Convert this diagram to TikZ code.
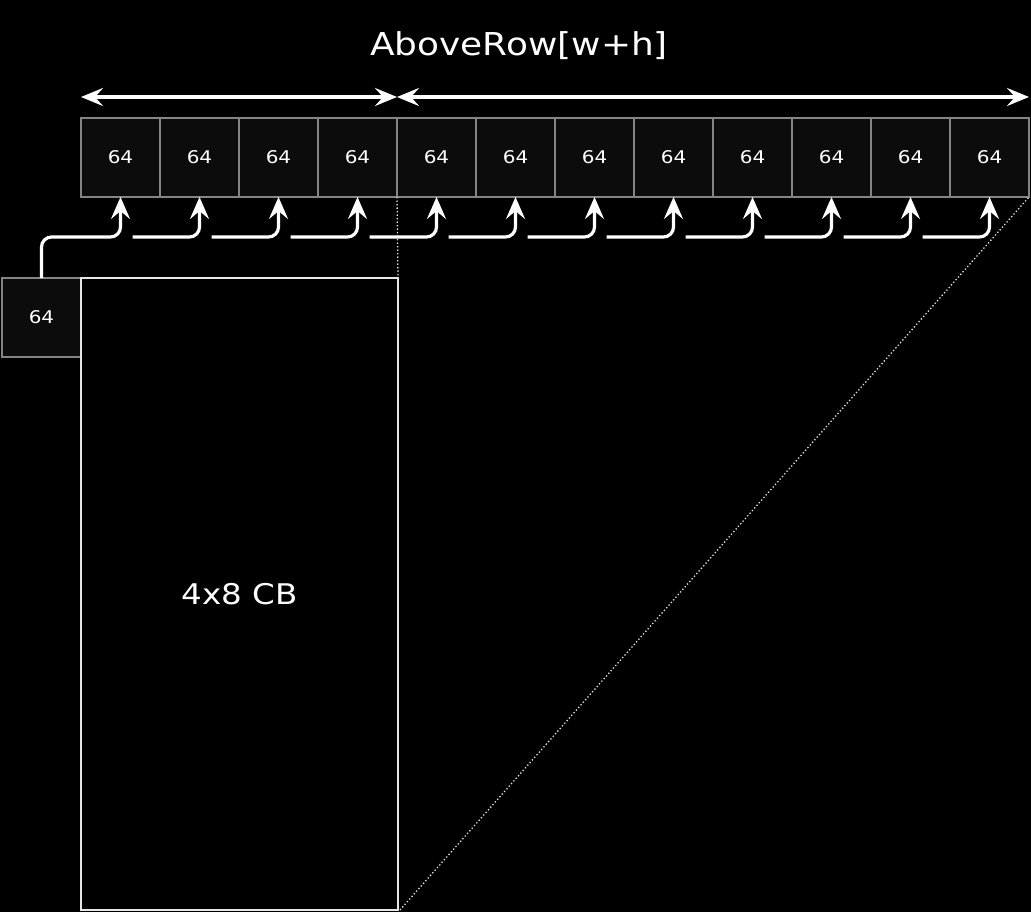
\documentclass[tikz,border=0pt]{standalone}
\usepackage{fontspec}
\setmainfont{DejaVu Sans}
\newfontfamily\widefont[FakeStretch=1.14]{DejaVu Sans}
\usetikzlibrary{arrows.meta,calc}
\definecolor{cellfill}{HTML}{0C0C0C}
\definecolor{cellline}{HTML}{858585}
\definecolor{cbline}{HTML}{E6E6E6}
\definecolor{dotline}{HTML}{E0E0E0}
\tikzset{
  cell/.style={draw=cellline, fill=cellfill, line width=1.8pt, minimum size=79pt, inner sep=0pt, outer sep=0pt, text=white, font=\widefont\fontsize{17.5}{19}\selectfont},
  cbbox/.style={draw=cbline, fill=black, line width=2.2pt, minimum width=317pt, minimum height=632pt, inner sep=0pt, outer sep=0pt, text=white, font=\widefont\fontsize{28.5}{32}\selectfont},
  conn/.style={draw=white, line width=3.2pt, rounded corners=10pt, -{Stealth[length=22pt,width=19pt,inset=8pt]}},
  span/.style={draw=white, line width=3.2pt, {Stealth[length=22pt,width=18pt,inset=8pt]}-{Stealth[length=22pt,width=18pt,inset=8pt]}},
  guide/.style={draw=dotline, line width=1.3pt, dash pattern=on 1.3pt off 2.2pt},
  title/.style={text=white, font=\widefont\fontsize{31.5}{36}\selectfont}
}
\begin{document}
\begin{tikzpicture}[x=1pt,y=-1pt]
\fill[black] (0,0) rectangle (1031,912);
\useasboundingbox (0,0) rectangle (1031,912);
\node[title] (t) at (519,46) {AboveRow[w+h]};
\foreach \i in {0,...,11} {
  \node[cell] (c\i) at ({120.5+79*\i},157.5) {64};
}
\node[cell] (l) at (41.5,317.5) {64};
\node[cbbox] (cb) at (239.5,594) {4x8 CB};
% dimension arrows
\coordinate (a0) at ($(c0.north west)+(0,-21)$);
\coordinate (a1) at ($(c3.north east)+(0,-21)$);
\coordinate (a2) at ($(c11.north east)+(0,-21)$);
\draw[span] (a0) -- (a1);
\draw[span] (a1) -- (a2);
% guides
\draw[guide] (c3.south east) -- (cb.north east);
\draw[guide] ($(cb.south east)+(2,0)$) -- (c11.south east);
% connectors
\coordinate (yl) at (0,237);
\draw[conn] (l.north) |- (c0.south |- yl) -- (c0.south);
\foreach \i [count=\j from 1] in {0,...,10} {
  \coordinate (s\j) at ($(c\i.south |- yl)+(12,0)$);
  \draw[conn] (s\j) -- (c\j.south |- yl) -- (c\j.south);
}
\end{tikzpicture}
\end{document}
